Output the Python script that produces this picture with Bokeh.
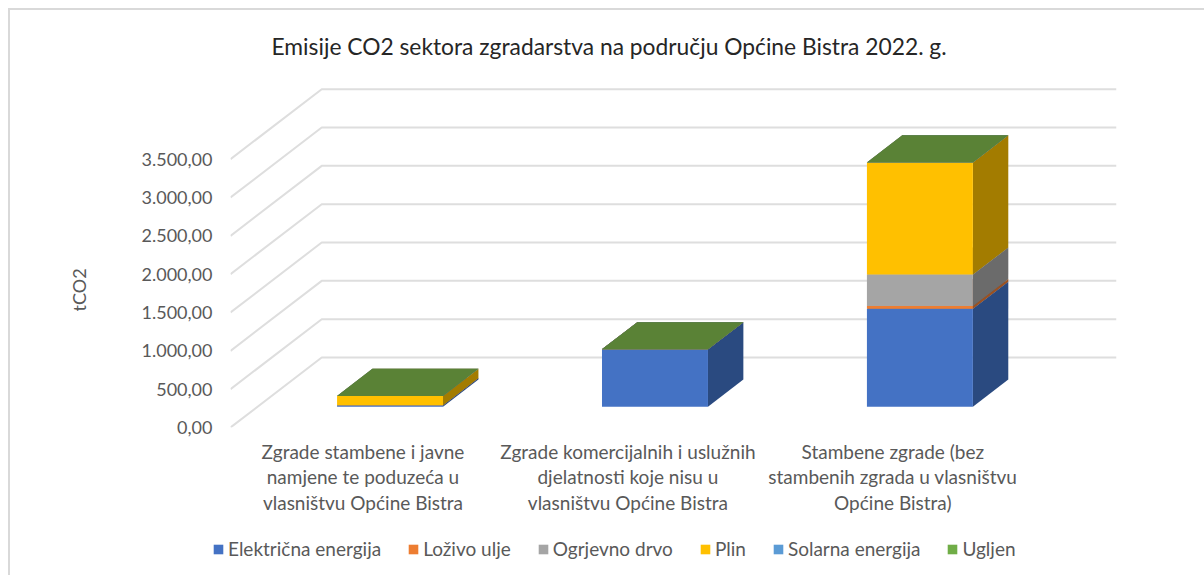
from bokeh.plotting import figure
from bokeh.layouts import column
from bokeh.embed import file_html
from bokeh.resources import INLINE
from bokeh.models import Range1d, FixedTicker, Legend, LegendItem, Title, LinearAxis

title_text = "Emisije CO2 sektora zgradarstva na području Općine Bistra 2022. g."
y_label = "tCO2"
categories = [
    "Zgrade stambene i javne\nnamjene te poduzeća u\nvlasništvu Općine Bistra",
    "Zgrade komercijalnih i uslužnih\ndjelatnosti koje nisu u\nvlasništvu Općine Bistra",
    "Stambene zgrade (bez\nstambenih zgrada u vlasništvu\nOpćine Bistra)",
]
y_ticks = [0, 500, 1000, 1500, 2000, 2500, 3000, 3500]
y_tick_labels = ["0,00", "500,00", "1.000,00", "1.500,00", "2.000,00", "2.500,00", "3.000,00", "3.500,00"]

series_names = ["Električna energija", "Loživo ulje", "Ogrjevno drvo", "Plin", "Solarna energija", "Ugljen"]
elektricna = [20, 748, 1277]
lozivo = [0, 0, 35]
ogrjevno = [0, 0, 411]
plin = [120, 0, 1462]
solarna = [0, 0, 0]
ugljen = [1, 1, 1]
series_values = [elektricna, lozivo, ogrjevno, plin, solarna, ugljen]

front_colors = ["#4472C4", "#ED7D31", "#A5A5A5", "#FFC000", "#5B9BD5", "#70AD47"]
side_colors = ["#2A4A80", "#9C5220", "#6B6B6B", "#A37C00", "#3B6588", "#48702E"]
top_colors = ["#335593", "#B25E25", "#7C7C7C", "#BF9000", "#44749F", "#5A8236"]

# oblique-projection geometry, in data units
X_MAX = 884 / 264.33
Y_MAX = 4500
WALL_DX = 91 / 264.33
WALL_DY = 913
BAR_WIDTH = 0.40
DEPTH_START = 0.297
DEPTH_SIZE = 0.388
FONT = "Lato"

p = figure(width=1196, height=527, frame_width=884, frame_height=343,
           x_range=Range1d(0, X_MAX), y_range=Range1d(0, Y_MAX),
           output_backend="svg", toolbar_location=None, tools="",
           min_border_left=220, min_border_right=90, min_border_top=72, min_border_bottom=110,
           outline_line_color=None, x_axis_type=None, y_axis_type=None)
p.margin = (8, 0, 0, 8)
p.xgrid.visible = False
p.ygrid.visible = False
p.styles = {"border-top": "2px solid #d9d9d9", "border-left": "2px solid #d9d9d9", "box-sizing": "border-box"}

t = Title(text=title_text, align="left", offset=41, text_font=FONT, text_font_size="22.8px",
          text_font_style="normal", text_color="#262626", standoff=41, vertical_align="top")
p.add_layout(t, "above")

yax = LinearAxis(ticker=FixedTicker(ticks=y_ticks), axis_line_color=None,
                 major_tick_line_color=None, minor_tick_line_color=None,
                 major_label_overrides={v: s for v, s in zip(y_ticks, y_tick_labels)},
                 major_label_text_font=FONT, major_label_text_font_size="18px",
                 major_label_text_color="#595959", major_label_standoff=12)
p.add_layout(yax, "left")
yt = Title(text=y_label, align="left", offset=116, text_font=FONT, text_font_size="18px",
           text_font_style="normal", text_color="#595959", standoff=97)
p.add_layout(yt, "left")

x_ticks = [i + 0.5 for i in range(len(categories))]
xax = LinearAxis(ticker=FixedTicker(ticks=x_ticks), axis_line_color=None,
                 major_tick_line_color=None, minor_tick_line_color=None,
                 major_label_overrides={v: s for v, s in zip(x_ticks, categories)},
                 major_label_text_font=FONT, major_label_text_font_size="19px",
                 major_label_text_color="#595959", major_label_standoff=6,
                 major_label_text_line_height=1.12)
p.add_layout(xax, "below")

p.multi_line(xs=[[0, WALL_DX, X_MAX] for _ in y_ticks],
             ys=[[v, v + WALL_DY, v + WALL_DY] for v in y_ticks],
             line_color="#DEDEDE", line_width=2)

dx = WALL_DX * DEPTH_SIZE
dy = WALL_DY * DEPTH_SIZE
bottom = [0.0] * len(categories)
for vals, fc, sc, tc in zip(series_values, front_colors, side_colors, top_colors):
    lefts, rights, bots, tops = [], [], [], []
    for i, v in enumerate(vals):
        l = i + 0.5 - BAR_WIDTH / 2 + WALL_DX * DEPTH_START
        b = WALL_DY * DEPTH_START + bottom[i]
        lefts.append(l); rights.append(l + BAR_WIDTH); bots.append(b); tops.append(b + v)
        bottom[i] += v
    p.patches(xs=[[l, r, r + dx, l + dx] for l, r in zip(lefts, rights)],
              ys=[[t_, t_, t_ + dy, t_ + dy] for t_ in tops],
              fill_color=tc, line_color=None)
    p.patches(xs=[[r, r + dx, r + dx, r] for r in rights],
              ys=[[b, b + dy, t_ + dy, t_] for b, t_ in zip(bots, tops)],
              fill_color=sc, line_color=None)
    p.quad(left=lefts, right=rights, bottom=bots, top=tops, fill_color=fc, line_color=None)

# legend strip: its own small figure under the chart
p2 = figure(width=1196, height=40, frame_width=1194, frame_height=40,
            x_range=Range1d(0, 1), y_range=Range1d(0, 1),
            output_backend="svg", toolbar_location=None, tools="",
            min_border_left=0, min_border_right=0, min_border_top=0, min_border_bottom=0,
            outline_line_color=None, x_axis_type=None, y_axis_type=None)
p2.margin = (0, 0, 0, 8)
p2.xgrid.visible = False
p2.ygrid.visible = False
p2.styles = {"border-left": "2px solid #d9d9d9", "box-sizing": "border-box"}

items = []
for name, fc in zip(series_names, front_colors):
    rn = p2.quad(left=[0], right=[0], bottom=[0], top=[0], fill_color=fc, line_color=None)
    items.append(LegendItem(label=name, renderers=[rn]))

legend = Legend(items=items, orientation="horizontal", location=(202, 15),
                glyph_width=12, glyph_height=12, label_standoff=4, spacing=26,
                padding=0, margin=0, border_line_color=None, background_fill_alpha=0,
                label_text_font=FONT, label_text_font_size="19px", label_text_color="#595959")
p2.add_layout(legend, "center")

page = column(p, p2, spacing=0)
open("out.html", "w").write(file_html(page, INLINE))
